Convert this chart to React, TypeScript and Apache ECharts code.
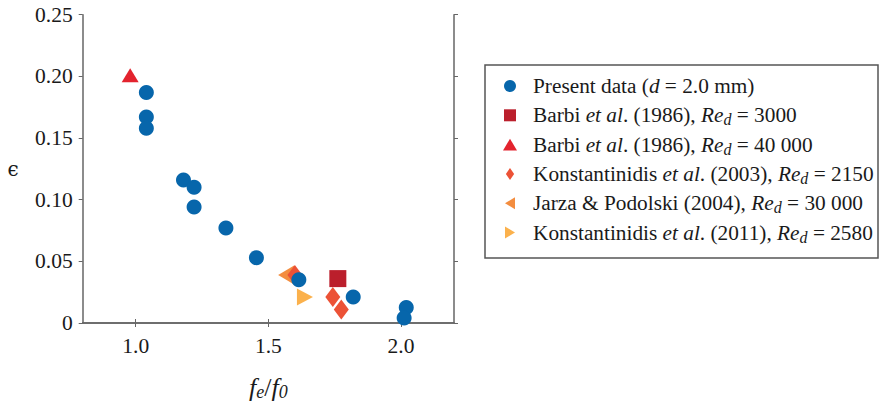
import React, { useEffect, useRef } from "react";
import * as echarts from "echarts";

const presentX = [1.04, 1.04, 1.04, 1.18, 1.22, 1.22, 1.34, 1.455, 1.615, 1.82, 2.02, 2.012];
const presentY = [0.187, 0.167, 0.158, 0.116, 0.110, 0.094, 0.077, 0.053, 0.035, 0.021, 0.0125, 0.004];
const barbi3000X = [1.762];
const barbi3000Y = [0.036];
const barbi40000X = [0.979];
const barbi40000Y = [0.201];
const konst2003X = [1.6, 1.743, 1.775];
const konst2003Y = [0.039, 0.021, 0.011];
const jarzaX = [1.567];
const jarzaY = [0.039];
const konst2011X = [1.638];
const konst2011Y = [0.021];

const xTicks = [1.0, 1.5, 2.0];

const seriesNames = [
  "Present data (d = 2.0 mm)",
  "Barbi et al. (1986), Re_d = 3000",
  "Barbi et al. (1986), Re_d = 40 000",
  "Konstantinidis et al. (2003), Re_d = 2150",
  "Jarza & Podolski (2004), Re_d = 30 000",
  "Konstantinidis et al. (2011), Re_d = 2580",
];

const richLabels: Record<string, string> = {
  [seriesNames[0]]: "{f|Present data (}{i|d}{n| = 2.0 mm)}",
  [seriesNames[1]]: "{f|Barbi }{i|et al}{n|. (1986), }{i|Re}{s|d}{n| = 3000}",
  [seriesNames[2]]: "{f|Barbi }{i|et al}{n|. (1986), }{i|Re}{s|d}{n| = 40 000}",
  [seriesNames[3]]: "{f|Konstantinidis }{i|et al}{n|. (2003), }{i|Re}{s|d}{n| = 2150}",
  [seriesNames[4]]: "{f|Jarza & Podolski (2004), }{i|Re}{s|d}{n| = 30 000}",
  [seriesNames[5]]: "{f|Konstantinidis }{i|et al}{n|. (2011), }{i|Re}{s|d}{n| = 2580}",
};

const legendIcons = [
  "circle",
  "path://M0,0 L10,0 L10,10 L0,10 Z",
  "path://M6,0 L12,10 L0,10 Z",
  "path://M4.5,0 L9,6.5 L4.5,13 L0,6.5 Z",
  "path://M10,0 L10,12 L0,6 Z",
  "path://M0,0 L0,12 L10,6 Z",
];

const zip = (xs: number[], ys: number[]) => xs.map((x, i) => [x, ys[i]]);

const SERIF = "Liberation Serif";
const AXIS_COLOR = "#666666";

export default function App() {
  const ref = useRef<HTMLDivElement>(null);
  useEffect(() => {
    document.body.style.margin = "0";
    if (!ref.current) return;
    const chart = echarts.init(ref.current, undefined, { renderer: "svg" });
    const axisCommon = {
      axisLine: { show: true, lineStyle: { color: AXIS_COLOR, width: 1.5 } },
      axisTick: { show: true, inside: false, length: 4, lineStyle: { color: AXIS_COLOR, width: 1 } },
      splitLine: { show: false },
    };
    const textBase = { fontFamily: SERIF, fontSize: 21.3, color: "#1a1a1a", lineHeight: 25 };
    chart.setOption({
      animation: false,
      backgroundColor: "#ffffff",
      grid: { left: 82.7, top: 14.7, right: 430, bottom: 82, containLabel: false },
      xAxis: [
        {
          type: "value",
          min: 0.8,
          max: 2.2,
          position: "bottom",
          ...axisCommon,
          axisTick: { ...axisCommon.axisTick, customValues: xTicks },
          axisLabel: {
            customValues: xTicks,
            formatter: (v: number) => v.toFixed(1),
            fontFamily: SERIF,
            fontSize: 21.5,
            color: "#1a1a1a",
            margin: 12,
          },
          name: "{i|f}{s|e}{n|/}{i|f}{s|0}",
          nameLocation: "middle",
          nameGap: 50,
          nameTextStyle: {
            rich: {
              i: { fontFamily: SERIF, fontStyle: "italic", fontSize: 26, color: "#1a1a1a", lineHeight: 28 },
              n: { fontFamily: SERIF, fontSize: 26, color: "#1a1a1a", lineHeight: 28 },
              s: { fontFamily: SERIF, fontStyle: "italic", fontSize: 18, color: "#1a1a1a", lineHeight: 20, verticalAlign: "bottom", padding: [10, 0, 0, 0] },
            },
          },
        },
        {
          type: "value",
          min: 0.8,
          max: 2.2,
          position: "top",
          ...axisCommon,
          axisTick: { ...axisCommon.axisTick, customValues: xTicks },
          axisLabel: { show: false },
        },
      ],
      yAxis: [
        {
          type: "value",
          min: 0,
          max: 0.25,
          interval: 0.05,
          position: "left",
          ...axisCommon,
          axisLabel: {
            formatter: (v: number) => (v === 0 ? "0" : v.toFixed(2)),
            fontFamily: SERIF,
            fontSize: 21.5,
            color: "#1a1a1a",
            margin: 10,
          },
          name: "ϵ",
          nameLocation: "middle",
          nameRotate: 0,
          nameGap: 64,
          nameTextStyle: { fontFamily: "DejaVu Serif", fontSize: 20, color: "#1a1a1a", padding: [16, 0, 0, 0] },
        },
        {
          type: "value",
          min: 0,
          max: 0.25,
          interval: 0.05,
          position: "right",
          ...axisCommon,
          axisLabel: { show: false },
        },
      ],
      legend: {
        orient: "vertical",
        left: 503,
        top: 73.5,
        padding: 0,
        itemWidth: 14,
        itemHeight: 12,
        itemGap: 4.3,
        data: seriesNames.map((name, i) => ({ name, icon: legendIcons[i] })),
        formatter: (name: string) => richLabels[name] || name,
        textStyle: {
          ...textBase,
          rich: {
            f: { ...textBase, padding: [0, 0, 0, 11] },
            n: { ...textBase },
            i: { ...textBase, fontStyle: "italic" },
            s: { ...textBase, fontStyle: "italic", fontSize: 16, lineHeight: 16, verticalAlign: "bottom", padding: [9, 0, 0, 0] },
          },
        },
      },
      graphic: [
        {
          type: "rect",
          shape: { x: 485, y: 65, width: 393, height: 193 },
          style: { fill: "none", stroke: "#555555", lineWidth: 1.5 },
          silent: true,
        },
      ],
      series: [
        {
          name: seriesNames[0],
          type: "scatter",
          data: zip(presentX, presentY),
          symbol: "circle",
          symbolSize: 15,
          itemStyle: { color: "#0766ab", opacity: 1 },
          z: 5,
        },
        {
          name: seriesNames[1],
          type: "scatter",
          data: zip(barbi3000X, barbi3000Y),
          symbol: "rect",
          symbolSize: 17,
          itemStyle: { color: "#bb1f2c", opacity: 1 },
          z: 3,
        },
        {
          name: seriesNames[2],
          type: "scatter",
          data: zip(barbi40000X, barbi40000Y),
          symbol: "triangle",
          symbolSize: [17, 14],
          itemStyle: { color: "#e3232e", opacity: 1 },
          z: 3,
        },
        {
          name: seriesNames[3],
          type: "scatter",
          data: zip(konst2003X, konst2003Y),
          symbol: "diamond",
          symbolSize: [15, 20],
          itemStyle: { color: "#ec5236", opacity: 1 },
          z: 4,
        },
        {
          name: seriesNames[4],
          type: "scatter",
          data: zip(jarzaX, jarzaY),
          symbol: "path://M10,0 L10,12 L0,6 Z",
          symbolSize: [16, 19],
          itemStyle: { color: "#f38d3f", opacity: 1 },
          z: 3,
        },
        {
          name: seriesNames[5],
          type: "scatter",
          data: zip(konst2011X, konst2011Y),
          symbol: "path://M0,0 L0,12 L10,6 Z",
          symbolSize: [16, 17],
          itemStyle: { color: "#fbb14c", opacity: 1 },
          z: 3,
        },
      ],
    });
    return () => chart.dispose();
  }, []);
  return <div ref={ref} style={{ width: 884, height: 406 }} />;
}
